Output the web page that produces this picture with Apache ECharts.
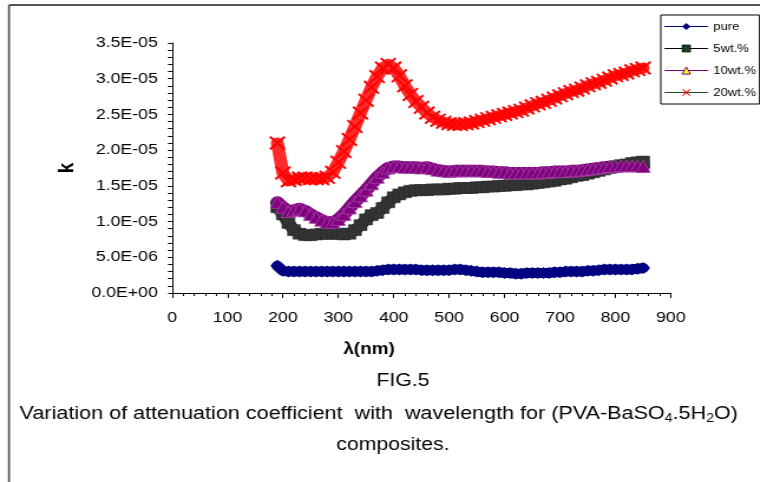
<!DOCTYPE html>
<html>
<head>
<meta charset="utf-8">
<script src="https://cdn.jsdelivr.net/npm/echarts@6/dist/echarts.min.js"></script>
<style>
	html, body { margin: 0; padding: 0; background: #fff; overflow: hidden; }
	/* the reference picture is stretched sideways, so the chart is drawn narrower and widened */
	#chart { width: 644px; height: 482px; transform: scaleX(1.18); transform-origin: 0 0; }
</style>
</head>
<body>
<div id="chart"></div>
<script>
// wavelength (nm)
var wavelength = [190,200,210,220,230,240,250,260,270,280,290,300,310,320,330,340,350,360,370,380,
	390,400,410,420,430,440,450,460,470,480,490,500,510,520,530,540,550,560,570,580,
	590,600,610,620,630,640,650,660,670,680,690,700,710,720,730,740,750,760,770,780,
	790,800,810,820,830,840,850];
// k values, in units of 1E-06
var kPure = [3.8,3.1,3.0,3.0,3.0,3.0,3.0,3.0,3.0,3.0,3.0,3.0,3.0,3.0,3.0,3.0,3.0,3.0,3.1,3.2,
	3.3,3.3,3.3,3.3,3.3,3.3,3.2,3.2,3.2,3.2,3.2,3.2,3.3,3.3,3.2,3.1,3.0,2.9,2.9,2.9,
	2.9,2.8,2.8,2.7,2.7,2.8,2.8,2.8,2.8,2.8,2.9,2.9,3.0,3.0,3.0,3.0,3.1,3.1,3.2,3.3,
	3.3,3.3,3.3,3.3,3.3,3.4,3.5];
var k5wt = [12.0,11.0,9.8,8.8,8.3,8.1,8.1,8.2,8.3,8.3,8.3,8.3,8.2,8.3,8.8,9.5,10.3,10.9,11.2,11.9,
	12.7,13.4,13.8,14.1,14.3,14.4,14.4,14.4,14.5,14.5,14.5,14.6,14.6,14.7,14.7,14.7,14.8,14.8,14.9,14.9,
	15.0,15.0,15.1,15.1,15.2,15.2,15.3,15.4,15.5,15.6,15.7,15.9,16.0,16.2,16.4,16.5,16.7,16.9,17.1,17.3,
	17.5,17.7,17.9,18.0,18.2,18.3,18.4];
var k10wt = [12.7,12.0,11.4,11.6,11.8,11.5,11.0,10.6,10.2,9.9,9.9,10.3,11.0,11.9,12.8,13.6,14.4,15.3,16.2,16.9,
	17.5,17.7,17.7,17.6,17.6,17.6,17.5,17.6,17.4,17.2,17.1,17.0,17.1,17.1,17.1,17.1,17.1,17.1,17.0,17.0,
	16.9,16.9,16.8,16.8,16.8,16.8,16.8,16.8,16.9,16.9,17.0,17.0,17.0,17.1,17.1,17.2,17.3,17.4,17.5,17.6,
	17.7,17.7,17.8,17.8,17.8,17.8,17.7];
var k20wt = [21.0,16.8,15.7,15.9,16.1,16.1,16.0,16.0,16.0,16.2,16.9,18.3,19.8,21.5,23.3,25.2,27.0,28.8,30.3,31.5,
	32.0,31.5,30.4,29.0,27.8,26.8,26.0,25.2,24.6,24.2,23.9,23.7,23.6,23.6,23.7,23.8,24.0,24.2,24.4,24.6,
	24.8,25.0,25.2,25.4,25.6,25.9,26.2,26.5,26.7,27.0,27.3,27.6,27.9,28.2,28.4,28.7,29.0,29.3,29.5,29.8,
	30.1,30.4,30.6,30.8,31.1,31.3,31.5];

var fontFamily = '"Liberation Sans", Arial, sans-serif';
var xMark = 'path://M0,1L1,0L5,4L9,0L10,1L6,5L10,9L9,10L5,6L1,10L0,9L4,5Z';

// 1E-06 units -> "3.5E-05"
function sciLabel(v){
	var k = v * 1e-6;
	if (Math.abs(k) < 1e-12) return '0.0E+00';
	var e = Math.floor(Math.log10(Math.abs(k)) + 1e-9);
	var m = k / Math.pow(10, e);
	var ex = Math.abs(e);
	return m.toFixed(1) + 'E' + (e < 0 ? '-' : '+') + (ex < 10 ? '0' + ex : ex);
}

function pairs(ys){
	var out = [];
	for (var i = 0; i < wavelength.length; i++) out.push([wavelength[i], ys[i]]);
	return out;
}

// thick line = the dense marker band of the original, markers drawn on top
function bandSeries(name, ys, symbol, size, itemStyle, bandColor, bandWidth){
	return {
		name: name, type: 'line', data: pairs(ys),
		symbol: symbol, symbolSize: size, showAllSymbol: true,
		itemStyle: itemStyle,
		lineStyle: { color: bandColor, width: bandWidth, cap: 'round', join: 'round' },
		emphasis: { disabled: true }
	};
}

var chart = echarts.init(document.getElementById('chart'));
var option = {
	animation: false,
	backgroundColor: '#fff',
	textStyle: { fontFamily: fontFamily },
	grid: { left: 145.8, right: 75.5, top: 43, bottom: 189 },
	legend: {
		orient: 'vertical',
		left: 560,
		top: 15,
		padding: [6, 3, 6, 3],
		itemWidth: 36,
		itemHeight: 9,
		itemGap: 11,
		borderColor: '#000',
		borderWidth: 1,
		selectedMode: false,
		lineStyle: { width: 1.2 },
		textStyle: { fontSize: 11, color: '#000', fontFamily: fontFamily },
		data: [
			{ name: 'pure', lineStyle: { color: '#000080', width: 1.2 } },
			{ name: '5wt.%', itemStyle: { color: '#1f3d1f', borderColor: '#000', borderWidth: 0.5 }, lineStyle: { color: '#000', width: 1.2 } },
			{ name: '10wt.%', itemStyle: { color: '#ffff00', borderColor: '#800080', borderWidth: 1 }, lineStyle: { color: '#800080', width: 1.2 } },
			{ name: '20wt.%', lineStyle: { color: '#1f4d1f', width: 1.2 } }
		]
	},
	xAxis: {
		type: 'value',
		min: 0, max: 900, interval: 100,
		axisLine: { lineStyle: { color: '#000', width: 1 } },
		axisTick: { length: 5, lineStyle: { color: '#000' } },
		minorTick: { show: true, splitNumber: 5, length: 3, lineStyle: { color: '#000' } },
		splitLine: { show: false },
		axisLabel: { fontSize: 15, color: '#000', margin: 17, fontFamily: fontFamily }
	},
	yAxis: {
		type: 'value',
		min: 0, max: 35, interval: 5,
		name: 'k',
		nameLocation: 'middle',
		nameGap: 73,
		nameRotate: 90,
		nameTextStyle: { fontSize: 19, fontWeight: 'bold', color: '#000', fontFamily: fontFamily },
		axisLine: { show: true, lineStyle: { color: '#000', width: 1 } },
		axisTick: { show: true, length: 3.4, lineStyle: { color: '#000' } },
		minorTick: { show: true, splitNumber: 5, length: 3.4, lineStyle: { color: '#000' } },
		splitLine: { show: false },
		axisLabel: { fontSize: 15, color: '#000', margin: 12, fontFamily: fontFamily, formatter: sciLabel }
	},
	series: [
		bandSeries('pure', kPure, 'diamond', 12,
			{ color: '#000080', borderWidth: 0 }, '#000080', 10),
		bandSeries('5wt.%', k5wt, 'rect', 11,
			{ color: '#333333', borderColor: '#2a2a2a', borderWidth: 0.5 }, '#333333', 11),
		bandSeries('10wt.%', k10wt, 'triangle', 12,
			{ color: '#800080', borderColor: '#a648a6', borderWidth: 0.8 }, '#800080', 12),
		bandSeries('20wt.%', k20wt, xMark, 14,
			{ color: '#ff0000' }, '#ff2a2a', 11)
	],
	graphic: [
		{ type: 'line', shape: { x1: 7.6, y1: 5, x2: 7.6, y2: 482 }, style: { stroke: '#555', lineWidth: 1.7 } },
		{ type: 'line', shape: { x1: 7.6, y1: 5, x2: 644, y2: 5 }, style: { stroke: '#555', lineWidth: 2 } },
		{ type: 'text', x: 312.7, y: 350,
			style: { text: 'λ(nm)', font: 'bold 16px ' + fontFamily, fill: '#000', align: 'center', verticalAlign: 'middle' } },
		{ type: 'text', x: 341.5, y: 381,
			style: { text: 'FIG.5', font: '18px ' + fontFamily, fill: '#000', align: 'center', verticalAlign: 'middle' } },
		{ type: 'text', x: 321, y: 414,
			style: {
				text: '{n|Variation of attenuation coefficient  with  wavelength for (PVA-BaSO}{s|4}{n|.5H}{s|2}{n|O)}',
				align: 'center', verticalAlign: 'middle',
				rich: {
					n: { fontSize: 18.3, lineHeight: 22, fill: '#000', fontFamily: fontFamily },
					s: { fontSize: 12, lineHeight: 12, verticalAlign: 'bottom', fill: '#000', fontFamily: fontFamily }
				}
			} },
		{ type: 'text', x: 333, y: 445,
			style: { text: 'composites.', font: '18px ' + fontFamily, fill: '#000', align: 'center', verticalAlign: 'middle' } }
	]
};
chart.setOption(option);
</script>
</body>
</html>
